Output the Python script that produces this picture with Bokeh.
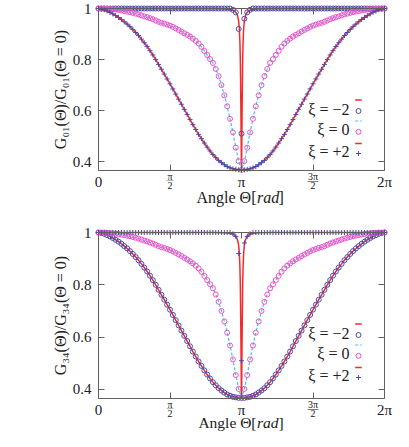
import numpy as np
from bokeh.plotting import figure
from bokeh.layouts import column
from bokeh.models import Label, FixedTicker, LinearAxis, Range1d
from bokeh.embed import file_html
from bokeh.resources import INLINE

# ---------------- data ----------------
N_STEPS = 100                      # sampling of the point series over [0, 2pi]
THETA_PTS = [i * 2 * np.pi / N_STEPS for i in range(N_STEPS + 1)]

# half profiles: value at distance k*step from pi (k = 0..50)
medium_half = [0.368, 0.402, 0.455, 0.515, 0.568, 0.617, 0.660, 0.700, 0.735, 0.763,
               0.787, 0.802, 0.818, 0.834, 0.850, 0.863, 0.873, 0.882, 0.890, 0.897,
               0.903, 0.910, 0.916, 0.922, 0.928, 0.933, 0.937, 0.941, 0.944, 0.948,
               0.953, 0.958, 0.962, 0.966, 0.969, 0.973, 0.977, 0.980, 0.983, 0.986,
               0.988, 0.990, 0.992, 0.994, 0.996, 0.997, 0.998, 0.999, 1.0, 1.0, 1.0]
wide_half = [0.368, 0.368, 0.370, 0.372, 0.376, 0.381, 0.388, 0.396, 0.405, 0.416,
             0.428, 0.442, 0.457, 0.473, 0.490, 0.507, 0.526, 0.545, 0.565, 0.585,
             0.605, 0.625, 0.645, 0.665, 0.685, 0.705, 0.724, 0.743, 0.762, 0.781,
             0.800, 0.818, 0.835, 0.851, 0.866, 0.880, 0.894, 0.906, 0.918, 0.929,
             0.939, 0.948, 0.957, 0.965, 0.972, 0.979, 0.985, 0.990, 0.995, 0.998, 1.0]
narrow_pts = [1.0] * 47 + [0.995, 0.985, 0.92, 0.51, 0.96, 0.985, 0.995] + [1.0] * 47

# narrow analytic line: distance from pi and value
narrow_line_d = [0.0, 0.004, 0.008, 0.012, 0.016, 0.02, 0.026, 0.035, 0.047, 0.065,
                 0.09, 0.123, 0.17, 0.25, 0.4, 0.6, 1.0, 2.0, np.pi]
narrow_line_v = [0.368, 0.42, 0.50, 0.58, 0.65, 0.72, 0.80, 0.87, 0.92, 0.955,
                 0.973, 0.985, 0.992, 0.997, 0.999, 1.0, 1.0, 1.0, 1.0]

xtick_vals = [0, np.pi / 2, np.pi, 3 * np.pi / 2, 2 * np.pi]
xtick_num = ["0", "π", "π", "3π", "2π"]
xtick_den = [None, "2", None, "2", None]
ytick_vals = [0.4, 0.6, 0.8, 1.0]
ytick_text = ["0.4", "0.6", "0.8", "1"]
legend_labels = ["ξ = −2", "ξ = 0", "ξ = +2"]
XMIN, XMAX = 0.0, 2 * np.pi
YMIN, YMAX = 0.3655, 1.0

RED = "#f42a2a"
BLUE = "#4a4aae"
PINK = "#f050c8"
CYAN = "#3cc4f0"
AXC = "#606060"
TXT = "#202020"
FONT = "Liberation Serif"


def mirror(half):
    return half[::-1] + half[1:]


def line_xy(d, v):
    xs = [np.pi - t for t in d[::-1]] + [np.pi + t for t in d[1:]]
    ys = v[::-1] + v[1:]
    return xs, ys


medium_pts = mirror(medium_half)
wide_pts = mirror(wide_half)
nx, ny = line_xy(narrow_line_d, narrow_line_v)

W = 393
BOX_LEFT = 98      # canvas px to the box's left edge (x = 0)
BOX_W = 286        # box width


def lab(p, x, y, text, size, align="center", style="normal", angle=0.0):
    p.add_layout(Label(x=x, y=y, text=text, text_align=align, text_baseline="middle",
                       text_font=FONT, text_font_size=size, text_font_style=style,
                       text_color=TXT, angle=angle))


def make_panel(ylabel, narrow_first, H, box_top, box_h, xlab_off, xlab_size):
    s = (YMAX - YMIN) / box_h
    y0 = YMIN - (H - box_top - box_h) * s
    y1 = YMAX + box_top * s
    xpx = (XMAX - XMIN) / BOX_W
    x0 = XMIN - BOX_LEFT * xpx
    x1 = XMIN + (W - BOX_LEFT) * xpx
    p = figure(width=W, height=H, output_backend="svg", toolbar_location=None,
               x_range=Range1d(x0, x1), y_range=Range1d(y0, y1),
               min_border_left=0, min_border_right=0, min_border_top=0,
               min_border_bottom=0, x_axis_location=None, y_axis_location=None)
    p.outline_line_color = None
    p.xgrid.visible = False
    p.ygrid.visible = False
    p.background_fill_color = "white"
    p.border_fill_color = "white"

    def xp(px):   # px relative to box left -> data
        return XMIN + px * xpx

    def y_top(px):
        return YMAX - px * s

    def y_below(px):
        return YMIN - px * s

    # box axes with inward ticks (gnuplot style)
    axes = [
        ("left", ytick_vals, (YMIN, YMAX), XMIN),
        ("right", ytick_vals, (YMIN, YMAX), XMAX),
        ("below", xtick_vals, (XMIN, XMAX), YMIN),
        ("above", xtick_vals, (XMIN, XMAX), YMAX),
    ]
    for loc, ticks, bnds, fx in axes:
        ax = LinearAxis(ticker=FixedTicker(ticks=ticks), bounds=bnds, fixed_location=fx)
        ax.major_label_text_color = None
        ax.major_label_text_font_size = "1px"
        ax.major_label_standoff = 0
        ax.axis_line_color = AXC
        ax.major_tick_line_color = AXC
        ax.axis_line_width = 1
        ax.major_tick_in = 6
        ax.major_tick_out = 0
        ax.minor_tick_line_color = None
        p.add_layout(ax, loc)

    # curves
    if narrow_first:
        series = [("narrow", "circle"), ("medium", None), ("wide", "cross")]
    else:
        series = [("wide", "circle"), ("medium", None), ("narrow", "cross")]
    for name, mk in series:
        if name == "medium":
            p.line(THETA_PTS, medium_pts, line_color=CYAN, line_width=1.2, line_dash="3 2")
            p.scatter(THETA_PTS, medium_pts, marker="circle", size=5, fill_color=None,
                      line_color=PINK, line_width=1)
        else:
            if name == "narrow":
                p.line(nx, ny, line_color=RED, line_width=1.5)
                pts = narrow_pts
            else:
                p.line(THETA_PTS, wide_pts, line_color=RED, line_width=1.5)
                pts = wide_pts
            p.scatter(THETA_PTS, pts, marker=mk, size=5, fill_color=None,
                      line_color=BLUE, line_width=1)

    # legend (manual, gnuplot style)
    rows_line = [91.5, 112.5, 135.0]
    rows_mark = [102.5, 123.3, 145.0]
    rows_text = [100.7, 120.7, 142.5]
    lx0, lx1, mx, tx = 362.7 - 106, 369.3 - 106, 366 - 106, 357 - 106
    line_styles = [(RED, None), (CYAN, "3 2"), (RED, None)]
    marks = [("circle", BLUE), ("circle", PINK), ("cross", BLUE)]
    for i in range(3):
        col, dash = line_styles[i]
        kw = dict(line_color=col, line_width=1.5 if dash is None else 1.2)
        if dash:
            kw["line_dash"] = dash
        p.line([xp(lx0), xp(lx1)], [y_top(rows_line[i])] * 2, **kw)
        m, c = marks[i]
        p.scatter([xp(mx)], [y_top(rows_mark[i])], marker=m, size=5, fill_color=None,
                  line_color=c, line_width=1)
        lab(p, xp(tx), y_top(rows_text[i]), legend_labels[i], "16px", align="right")

    # y tick labels and y axis label
    for yv, t in zip(ytick_vals, ytick_text):
        lab(p, xp(-7), yv, t, "15px", align="right")
    lab(p, xp(-38), (YMIN + YMAX) / 2, ylabel, "16px", angle=np.pi / 2)

    # x tick labels
    for xv, num, den in zip(xtick_vals, xtick_num, xtick_den):
        if den is None:
            lab(p, xv, y_below(11.5), num, "15px")
        else:
            lab(p, xv, y_below(5.5), num, "10px")
            lab(p, xv, y_below(9.0), "—", "7px" if len(num) == 1 else "11px")
            lab(p, xv, y_below(15.0), den, "10px")

    # x axis label
    cx = xp(264 - 106)
    yl_ = y_below(xlab_off)
    lab(p, cx, yl_, "Angle Θ[", xlab_size, align="right")
    lab(p, cx + xp(0.5), yl_, "rad", xlab_size, align="left", style="italic")
    lab(p, cx + xp(22.0), yl_, "]", xlab_size, align="left")
    return p


p1 = make_panel("G₀₁(Θ)/G₀₁(Θ = 0)", True, 216, 8, 162, 27, "16px")
p2 = make_panel("G₃₄(Θ)/G₃₄(Θ = 0)", False, 215, 16, 166, 24, "15.5px")
layout = column(p1, p2, spacing=0)

with open("out.html", "w") as f:
    f.write(file_html(layout, INLINE))
